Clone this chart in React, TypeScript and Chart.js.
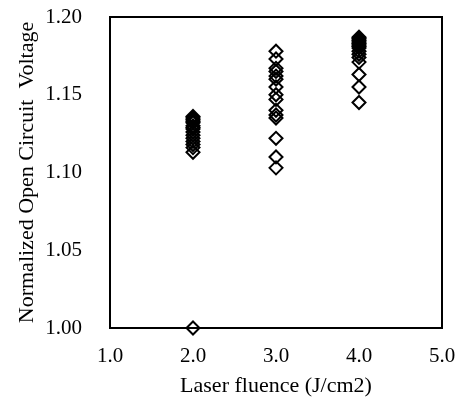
import React, { useEffect, useRef } from "react";
import { Chart, registerables } from "chart.js";

Chart.register(...registerables);

const voc2 = [1.136, 1.135, 1.134, 1.133, 1.132, 1.130, 1.129, 1.128, 1.126, 1.124, 1.122, 1.120, 1.118, 1.116, 1.113, 1.0];
const voc3 = [1.178, 1.173, 1.167, 1.165, 1.162, 1.160, 1.155, 1.150, 1.147, 1.140, 1.137, 1.135, 1.122, 1.110, 1.103];
const voc4 = [1.187, 1.186, 1.185, 1.184, 1.183, 1.182, 1.181, 1.180, 1.178, 1.176, 1.174, 1.171, 1.163, 1.155, 1.145];
const fluenceLevels = [2.0, 3.0, 4.0];
const xTicks = [1.0, 2.0, 3.0, 4.0, 5.0];
const yTicks = [1.0, 1.05, 1.1, 1.15, 1.2];

const groups = [voc2, voc3, voc4];

const frame = {
  id: "frame",
  beforeDatasetsDraw(chart: any) {
    const { ctx, chartArea } = chart;
    ctx.save();
    ctx.strokeStyle = "#000";
    ctx.lineWidth = 2;
    ctx.strokeRect(chartArea.left, chartArea.top, chartArea.right - chartArea.left, chartArea.bottom - chartArea.top);
    ctx.restore();
  },
};

export default function App() {
  const ref = useRef<HTMLCanvasElement | null>(null);
  useEffect(() => {
    const points: { x: number; y: number }[] = [];
    groups.forEach((g, i) => g.forEach((v) => points.push({ x: fluenceLevels[i], y: v })));
    const family = "'Liberation Serif', 'Times New Roman', serif";
    const tickFont = { family, size: 21 };
    const titleFont = { family, size: 22 };
    const chart = new Chart(ref.current as HTMLCanvasElement, {
      type: "scatter",
      data: {
        datasets: [
          {
            data: points,
            pointStyle: "rectRot",
            pointRadius: 6.5,
            pointHoverRadius: 6.5,
            borderColor: "#000",
            backgroundColor: "rgba(0,0,0,0)",
            borderWidth: 2,
            clip: false as any,
          },
        ],
      },
      options: {
        animation: false,
        responsive: false,
        maintainAspectRatio: false,
        layout: { padding: { left: 0, top: 17, right: 20, bottom: 0 } },
        plugins: { legend: { display: false }, tooltip: { enabled: false } },
        scales: {
          x: {
            type: "linear",
            min: 1,
            max: 5,
            afterFit(scale: any) {
              scale.height = 75;
              scale.paddingLeft = 0;
              scale.paddingRight = 0;
              scale.paddingTop = 0;
              scale.paddingBottom = 0;
            },
            afterBuildTicks(scale: any) {
              scale.ticks = xTicks.map((v) => ({ value: v }));
            },
            grid: { display: false, drawTicks: false },
            border: { display: false },
            ticks: {
              color: "#000",
              font: tickFont,
              padding: 16,
              maxRotation: 0,
              callback: (v: any) => Number(v).toFixed(1),
            },
            title: {
              display: true,
              text: "Laser fluence (J/cm2)",
              color: "#000",
              font: titleFont,
              padding: 4,
            },
          },
          y: {
            type: "linear",
            min: 1,
            max: 1.2,
            afterFit(scale: any) {
              scale.width = 110;
              scale.paddingLeft = 0;
              scale.paddingRight = 0;
              scale.paddingTop = 0;
              scale.paddingBottom = 0;
            },
            afterBuildTicks(scale: any) {
              scale.ticks = yTicks.map((v) => ({ value: v }));
            },
            grid: { display: false, drawTicks: false },
            border: { display: false },
            ticks: {
              color: "#000",
              font: tickFont,
              padding: 28,
              callback: (v: any) => Number(v).toFixed(2),
            },
            title: {
              display: true,
              text: "Normalized Open Circuit  Voltage",
              color: "#000",
              font: titleFont,
              padding: 14,
            },
          },
        },
      },
      plugins: [frame],
    });
    return () => chart.destroy();
  }, []);
  return (
    <div style={{ position: "fixed", left: 0, top: 0, width: 462, height: 403, background: "#fff" }}>
      <canvas ref={ref} width={462} height={403} style={{ width: 462, height: 403 }} />
    </div>
  );
}
